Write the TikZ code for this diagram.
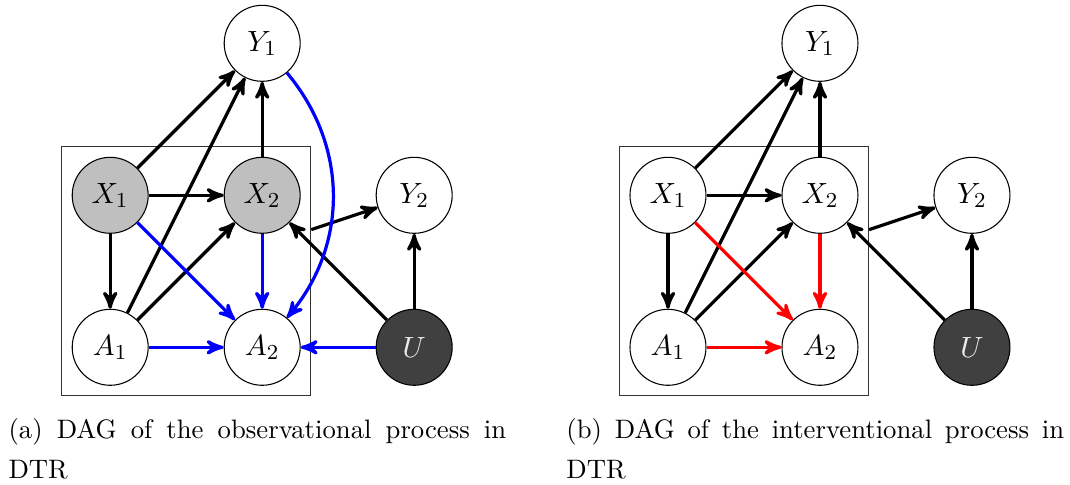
\documentclass[tikz,border=0pt]{standalone}
\usepackage{amsmath}
\usepackage{fontspec}
\usepackage{tikz}
\usetikzlibrary{shapes.geometric, arrows, fit}
\tikzstyle{var} = [circle, minimum size=1cm, inner sep=0pt, text centered, draw=black, fill=white, font=\fontsize{10.95}{13}\selectfont]
\tikzstyle{obs} = [var, fill=gray!50]
\tikzstyle{hidden} = [var, fill=black!75, text=gray!15]
\tikzstyle{plate} = [rectangle, draw=black!80, inner sep=3.75pt]
\tikzstyle{arrow} = [very thick,->,>=stealth']
\tikzstyle{caption} = [text width=6.55cm, align=justify, inner sep=0pt, anchor=base west, font=\fontsize{10}{15}\selectfont]

\begin{document}
\begin{tikzpicture}[node distance=2cm]
\useasboundingbox (0,0) rectangle (14.08,6.37);
% (a) observational process
\node (Y1a) [var] at (3.45,5.8) {$Y_1$};
\node (X2a) [obs, below of=Y1a] {$X_2$};
\node (X1a) [obs, left of=X2a] {$X_1$};
\node (Y2a) [var, right of=X2a] {$Y_2$};
\node (A2a) [var, below of=X2a] {$A_2$};
\node (A1a) [var, left of=A2a] {$A_1$};
\node (Ua) [hidden, right of=A2a] {$U$};
\node (platea) [plate, fit=(X1a)(A2a)] {};

\draw [arrow] (X1a) -- (Y1a);
\draw [arrow] (A1a) -- (Y1a);
\draw [arrow] (X2a) -- (Y1a);
\draw [arrow] (X1a) -- (X2a);
\draw [arrow] (X1a) -- (A1a);
\draw [arrow] (A1a) -- (X2a);
\draw [arrow] (Ua) -- (X2a);
\draw [arrow] (Ua) -- (Y2a);
\draw [arrow] (platea) -- (Y2a);
\draw [arrow, blue] (X1a) -- (A2a);
\draw [arrow, blue] (X2a) -- (A2a);
\draw [arrow, blue] (A1a) -- (A2a);
\draw [arrow, blue] (Ua) -- (A2a);
\draw [arrow, blue] (Y1a) to [bend left=40] (A2a);

% (b) interventional process
\node (Y1b) [var] at (10.79,5.8) {$Y_1$};
\node (X2b) [var, below of=Y1b] {$X_2$};
\node (X1b) [var, left of=X2b] {$X_1$};
\node (Y2b) [var, right of=X2b] {$Y_2$};
\node (A2b) [var, below of=X2b] {$A_2$};
\node (A1b) [var, left of=A2b] {$A_1$};
\node (Ub) [hidden, right of=A2b] {$U$};
\node (plateb) [plate, fit=(X1b)(A2b)] {};

\draw [arrow] (X1b) -- (Y1b);
\draw [arrow] (A1b) -- (Y1b);
\draw [arrow] (X2b) -- (Y1b);
\draw [arrow] (X1b) -- (X2b);
\draw [arrow] (X1b) -- (A1b);
\draw [arrow] (A1b) -- (X2b);
\draw [arrow] (Ub) -- (X2b);
\draw [arrow] (Ub) -- (Y2b);
\draw [arrow] (plateb) -- (Y2b);
\draw [arrow, red] (X1b) -- (A2b);
\draw [arrow, red] (X2b) -- (A2b);
\draw [arrow, red] (A1b) -- (A2b);

% captions
\node (capa) [caption] at (0.105,0.6) {(a) DAG of the observational process in\linebreak DTR};
\node (capb) [caption] at (7.447,0.6) {(b) DAG of the interventional process in\linebreak DTR};
\end{tikzpicture}
\end{document}
